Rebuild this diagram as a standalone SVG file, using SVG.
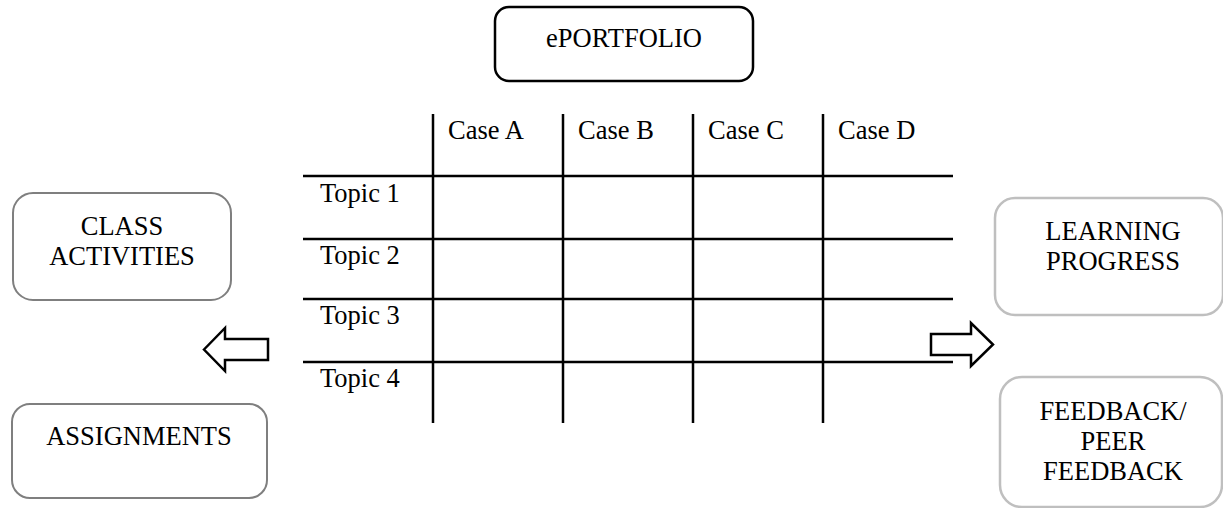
<svg xmlns="http://www.w3.org/2000/svg" width="1223" height="508" viewBox="0 0 1223 508">
<style>
text{font-family:"Liberation Serif","Times New Roman",serif;font-size:26.5px;fill:#000}
.c{text-anchor:middle}
.box{fill:#fff;stroke-width:2}
.b0{stroke:#000;stroke-width:2.5}
.b1{stroke:#7f7f7f}
.b2{stroke:#bfbfbf;stroke-width:2.5}
.grid line{stroke:#000;stroke-width:2.5}
.arrow{fill:#fff;stroke:#000;stroke-width:2.5;stroke-linejoin:miter}
</style>
<rect width="1223" height="508" fill="#fff"/>
<g id="eportfolio">
<rect class="box b0" x="495" y="7" width="258" height="74" rx="14"/>
<text class="c" x="624" y="47">ePORTFOLIO</text>
</g>
<g id="table" class="grid">
<line x1="433" y1="114" x2="433" y2="423"/>
<line x1="563" y1="114" x2="563" y2="423"/>
<line x1="693" y1="114" x2="693" y2="423"/>
<line x1="823" y1="114" x2="823" y2="423"/>
<line x1="303" y1="176" x2="953" y2="176"/>
<line x1="303" y1="239" x2="953" y2="239"/>
<line x1="303" y1="299" x2="953" y2="299"/>
<line x1="303" y1="362" x2="953" y2="362"/>
<text x="448" y="139">Case A</text>
<text x="578" y="139">Case B</text>
<text x="708" y="139">Case C</text>
<text x="838" y="139">Case D</text>
<text x="320" y="202">Topic 1</text>
<text x="320" y="264">Topic 2</text>
<text x="320" y="324">Topic 3</text>
<text x="320" y="387">Topic 4</text>
</g>
<g id="class-activities">
<rect class="box b1" x="13" y="193" width="218" height="107" rx="20"/>
<text class="c" x="122" y="235">CLASS</text>
<text class="c" x="122" y="265">ACTIVITIES</text>
</g>
<g id="assignments">
<rect class="box b1" x="12" y="404" width="255" height="94" rx="18"/>
<text class="c" x="139" y="445">ASSIGNMENTS</text>
</g>
<g id="learning-progress">
<rect class="box b2" x="995" y="198" width="228" height="117" rx="20"/>
<text class="c" x="1113" y="240">LEARNING</text>
<text class="c" x="1113" y="270">PROGRESS</text>
</g>
<g id="feedback">
<rect class="box b2" x="1000" y="377" width="222" height="130" rx="22"/>
<text class="c" x="1113" y="420">FEEDBACK/</text>
<text class="c" x="1113" y="450">PEER</text>
<text class="c" x="1113" y="480">FEEDBACK</text>
</g>
<g id="connectors">
<polygon class="arrow" points="204,349.5 225,328 225,339 268,339 268,360 225,360 225,371"/>
<polygon class="arrow" points="931,334 971,334 971,323 993,344.5 971,366 971,355 931,355"/>
</g>
</svg>
